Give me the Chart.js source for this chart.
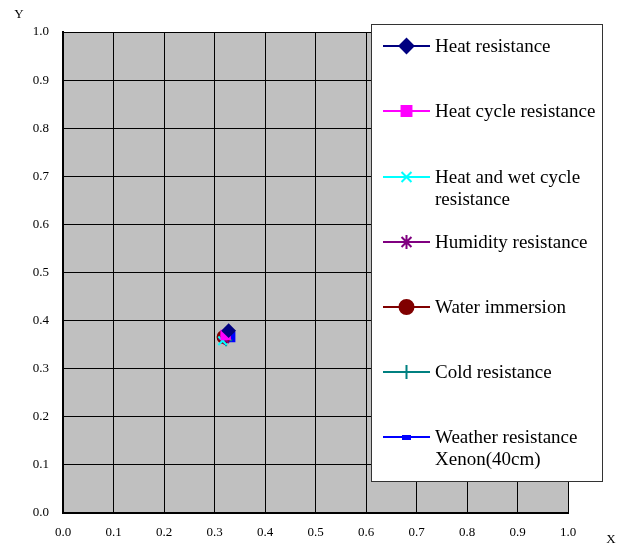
<!DOCTYPE html>
<html>
<head>
<meta charset="utf-8">
<title>Chart</title>
<script src="https://cdn.jsdelivr.net/npm/chart.js@4/dist/chart.umd.min.js"></script>
<style>
  html, body { margin: 0; padding: 0; background: #fff; }
  #wrap { width: 627px; height: 547px; }
</style>
</head>
<body>
<div id="wrap"><canvas id="chart" width="627" height="547"></canvas></div>
<script>
// series names (legend lines)
const seriesNames = [
    ['Heat resistance'],
    ['Heat cycle resistance'],
    ['Heat and wet cycle', 'resistance'],
    ['Humidity resistance'],
    ['Water immersion'],
    ['Cold resistance'],
    ['Weather resistance', 'Xenon(40cm)']
];
// one point per series, read from the cluster near (0.32, 0.37)
const xValues = [0.328, 0.322, 0.316, 0.320, 0.318, 0.323, 0.331];
const yValues = [0.379, 0.370, 0.358, 0.362, 0.366, 0.359, 0.366];
const seriesColors = ['#000080', '#ff00ff', '#00ffff', '#800080', '#800000', '#008080', '#0000ff'];
const seriesMarkers = ['rectRot', 'rect', 'crossRot', 'star', 'circle', 'cross', 'rect'];
const tickValues = [0, 0.1, 0.2, 0.3, 0.4, 0.5, 0.6, 0.7, 0.8, 0.9, 1.0];

const serif = '"Liberation Serif", "Times New Roman", serif';

const datasets = seriesNames.map((name, i) => ({
    label: name.join(' '),
    data: [{ x: xValues[i], y: yValues[i] }],
    borderColor: seriesColors[i],
    backgroundColor: seriesColors[i],
    pointStyle: seriesMarkers[i],
    pointRadius: 6,
    pointBorderWidth: 2,
    showLine: false
}));

// gray plot background
const plotBg = {
    id: 'plotBg',
    beforeDraw(chart) {
        const { ctx, chartArea: a } = chart;
        ctx.save();
        ctx.fillStyle = '#c0c0c0';
        ctx.fillRect(a.left, a.top, a.right - a.left, a.bottom - a.top);
        ctx.restore();
    }
};

// axis letters and the boxed legend over the plot
const extras = {
    id: 'extras',
    afterDraw(chart) {
        const ctx = chart.ctx;
        ctx.save();
        ctx.fillStyle = '#000';
        ctx.font = '13px ' + serif;
        ctx.textAlign = 'center';
        ctx.textBaseline = 'middle';
        ctx.fillText('Y', 19, 15);
        ctx.fillText('X', 611, 540);

        // legend box
        ctx.fillStyle = '#fff';
        ctx.fillRect(371, 24, 231, 457);
        ctx.strokeStyle = '#333';
        ctx.lineWidth = 1;
        ctx.strokeRect(371.5, 24.5, 231, 457);

        const rowY = [46, 111, 177, 242, 307, 372, 437];
        chart.data.datasets.forEach((ds, i) => {
            const y = rowY[i];
            ctx.strokeStyle = ds.borderColor;
            ctx.fillStyle = ds.backgroundColor;
            ctx.lineWidth = 2;
            ctx.beginPath();
            ctx.moveTo(383, y);
            ctx.lineTo(430, y);
            ctx.stroke();
            if (i === 6) {
                ctx.fillRect(402, y - 2, 9, 5);
            } else {
                Chart.helpers.drawPoint(ctx, { pointStyle: ds.pointStyle, radius: 7, borderWidth: 2, rotation: 0 }, 406.5, y);
            }
            ctx.fillStyle = '#000';
            ctx.font = '19px ' + serif;
            ctx.textAlign = 'left';
            ctx.textBaseline = 'middle';
            seriesNames[i].forEach((line, j) => ctx.fillText(line, 435, y + 1 + j * 22));
        });
        ctx.restore();
    }
};

new Chart(document.getElementById('chart').getContext('2d'), {
    type: 'scatter',
    data: { datasets },
    options: {
        responsive: false,
        animation: false,
        layout: { padding: { top: 32, right: 59, left: 0, bottom: 0 } },
        plugins: { legend: { display: false }, tooltip: { enabled: false } },
        scales: {
            x: {
                type: 'linear', min: 0, max: 1,
                afterBuildTicks: s => { s.ticks = tickValues.map(v => ({ value: v })); },
                afterFit: s => { s.height = 34; },
                grid: { color: '#000', lineWidth: 1, drawTicks: false },
                border: { color: '#000', width: 2 },
                ticks: { color: '#000', padding: 12, maxRotation: 0, font: { family: serif, size: 13 },
                    callback: v => v.toFixed(1) }
            },
            y: {
                type: 'linear', min: 0, max: 1,
                afterBuildTicks: s => { s.ticks = tickValues.map(v => ({ value: v })); },
                afterFit: s => { s.width = 63; },
                grid: { color: '#000', lineWidth: 1, drawTicks: false },
                border: { color: '#000', width: 2 },
                ticks: { color: '#000', padding: 14, font: { family: serif, size: 13 },
                    callback: v => v.toFixed(1) }
            }
        }
    },
    plugins: [plotBg, extras]
});
</script>
</body>
</html>
